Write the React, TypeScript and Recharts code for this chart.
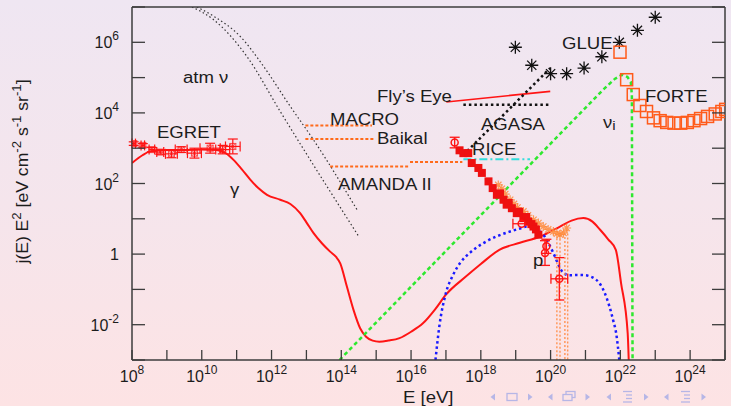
import { ComposedChart, Line, Scatter, XAxis, YAxis, ErrorBar } from 'recharts';

// Every value is a log10: energy E in eV, flux j(E)E^2 in eV cm^-2 s^-1 sr^-1.
const decadesE = [8, 9, 10, 11, 12, 13, 14, 15, 16, 17, 18, 19, 20, 21, 22, 23, 24, 25];
const decadesJ = [-3, -2, -1, 0, 1, 2, 3, 4, 5, 6, 7];

// atmospheric neutrinos (two bands)
const atmUpperE = [9.86, 10.34, 11.1, 11.77, 12.54, 13.2, 14.48];
const atmUpperJ = [7.0, 6.74, 6.17, 5.32, 4.18, 3.24, 1.21];
const atmLowerE = [9.72, 10.34, 11.3, 12.25, 14.48];
const atmLowerJ = [7.0, 6.64, 5.59, 4.04, 0.53];

// gamma-ray model curve
const gammaE = [8.0, 8.3, 8.52, 9.0, 9.5, 10.0, 10.43, 10.7, 10.91, 11.15, 11.39, 11.62, 11.87, 12.25, 12.54, 12.82, 13.0, 13.2, 13.45, 13.68, 13.85, 13.97, 14.16, 14.35, 14.54, 14.71, 14.9, 15.09, 15.35, 15.67, 16.0, 16.34, 16.7, 17.0, 17.58, 18.0, 18.53, 19.12, 19.7, 20.27, 20.6, 20.94, 21.2, 21.42, 21.65, 21.87, 22.02, 22.21, 22.24];
const gammaJ = [2.58, 2.8, 2.91, 2.95, 2.95, 2.96, 2.95, 2.85, 2.67, 2.4, 2.11, 1.87, 1.68, 1.54, 1.42, 1.16, 0.9, 0.6, 0.3, 0.07, -0.08, -0.26, -0.92, -1.58, -2.1, -2.34, -2.45, -2.48, -2.45, -2.38, -2.2, -1.96, -1.55, -1.15, -0.63, -0.28, 0.12, 0.32, 0.5, 0.78, 0.95, 1.02, 0.92, 0.69, 0.42, 0.12, -0.82, -2.24, -3.0];

// proton model curve
const protonE = [16.7, 16.81, 17.0, 17.2, 17.4, 17.7, 18.07, 18.45, 18.84, 19.1, 19.32, 19.55, 19.79, 20.08, 20.25, 20.37, 20.55, 20.75, 21.0, 21.13, 21.3, 21.4, 21.55, 21.69, 21.8, 21.88, 21.97];
const protonJ = [-3.0, -2.05, -1.1, -0.6, -0.26, 0.05, 0.31, 0.5, 0.64, 0.72, 0.78, 0.72, 0.55, 0.03, -0.35, -0.54, -0.6, -0.59, -0.6, -0.63, -0.72, -0.82, -1.1, -1.49, -1.9, -2.24, -3.0];

// neutrino model curve
const nuE = [13.95, 21.5, 21.85, 22.05, 22.2, 22.3, 22.33, 22.35];
const nuJ = [-3.0, 4.65, 4.97, 5.08, 5.02, 4.88, 4.5, -3.0];

// experimental limits
const flysEyeE = [17.01, 19.99];
const flysEyeJ = [4.31, 4.61];
const agasaFlatE = [17.5, 19.94];
const agasaFlatJ = [4.23, 4.23];
const agasaRiseE = [17.5, 19.99];
const agasaRiseJ = [2.81, 5.27];
const riceE = [17.5, 19.41];
const riceJ = [2.69, 2.69];
const macroE = [12.97, 14.88];
const macroJ = [3.64, 3.64];
const baikalE = [12.97, 14.97];
const baikalJ = [3.26, 3.26];
const amandaLowE = [13.68, 15.97];
const amandaLowJ = [2.48, 2.48];
const amandaHighE = [15.97, 17.47];
const amandaHighJ = [2.61, 2.61];

// EGRET diffuse gamma data
const egretE = [8.05, 8.31, 8.57, 8.81, 9.13, 9.41, 9.79, 10.24, 10.6, 10.89];
const egretJ = [3.13, 3.08, 2.96, 2.89, 2.84, 2.96, 2.86, 3.0, 2.96, 3.05];
const egretErrE = [0.05, 0.05, 0.08, 0.1, 0.17, 0.17, 0.2, 0.29, 0.2, 0.21];
const egretErrJ = [0.05, 0.05, 0.06, 0.06, 0.11, 0.08, 0.14, 0.14, 0.12, 0.21];

// cosmic ray spectrum
const crE = [17.39, 17.5, 17.64, 17.74, 17.93, 18.03, 18.22, 18.34, 18.46, 18.55, 18.65, 18.74, 18.8, 18.89, 19.03, 19.1, 19.22, 19.3, 19.36, 19.45, 19.51, 19.58, 19.65];
const crJ = [2.94, 2.86, 2.86, 2.58, 2.44, 2.3, 2.06, 1.87, 1.68, 1.72, 1.54, 1.4, 1.45, 1.3, 1.16, 1.2, 1.02, 1.05, 0.92, 0.85, 0.78, 0.7, 0.55];
const crHiE = [18.5, 18.6, 18.7, 18.84, 18.95, 19.05, 19.22, 19.35, 19.51, 19.65, 19.79, 19.93, 20.08, 20.18, 20.27, 20.37, 20.46];
const crHiJ = [1.96, 1.85, 1.7, 1.54, 1.42, 1.32, 1.21, 1.1, 0.97, 0.88, 0.78, 0.7, 0.64, 0.58, 0.55, 0.6, 0.74];
const crBarE = [17.25, 19.17, 19.84, 19.88, 20.25];
const crBarJ = [3.16, 0.86, 0.03, 0.22, -0.7];
const crBarErrE = [0, 0.25, 0, 0, 0.24];
const crBarErrJ = [0.15, 0, 0.35, 0.2, 0.6];
const limitE = [20.18, 20.27, 20.41, 20.49];
const limitTopJ = [0.45, 0.55, 0.6, 0.7];

// radio searches
const glueE = [18.99, 19.46, 20.0, 20.46, 20.96, 21.47, 21.97, 22.49, 23.0];
const glueJ = [5.86, 5.35, 5.11, 5.11, 5.27, 5.59, 6.0, 6.34, 6.71];
const forteE = [21.99, 22.18, 22.37, 22.56, 22.75, 22.95, 23.14, 23.33, 23.54, 23.73, 23.92, 24.11, 24.3, 24.5, 24.72, 24.91, 25.02];
const forteJ = [5.72, 4.94, 4.52, 4.21, 4.04, 3.86, 3.78, 3.73, 3.71, 3.71, 3.73, 3.78, 3.84, 3.9, 3.97, 4.04, 4.1];

const FONT = '"Liberation Sans", Arial, Helvetica, sans-serif';
const INK = '#1c1c1c';
const AXIS = '#3c3c3c';
const RED = '#ff1414';
const ORANGE = '#ff6a1a';
const NAV = '#b6b6e6';

type Row = { x: number; y: number; ex?: number; ey?: number };
const zip = (xs: number[], ys: number[]): Row[] => xs.map((x, i) => ({ x, y: ys[i] }));

const egretRows = egretE.map((x, i) => ({ x, y: egretJ[i], ex: egretErrE[i], ey: egretErrJ[i] }));
const crBarRows = crBarE.map((x, i) => ({ x, y: crBarJ[i], ex: crBarErrE[i], ey: crBarErrJ[i] }));

const BottomTick = ({ x, y, payload }: any) => {
  const v = payload.value as number;
  const labelled = v % 2 === 0 && v < 25;
  return (
    <g>
      <line x1={x} x2={x} y1={y} y2={y - 10} stroke={AXIS} strokeWidth={1.3} />
      {labelled && (
        <text x={x} y={y + 22} textAnchor="middle" fontFamily={FONT} fontSize={16} fill={INK}>
          10<tspan dy={-8} fontSize={12}>{v}</tspan>
        </text>
      )}
    </g>
  );
};

const TopTick = ({ x, y }: any) => (
  <line x1={x} x2={x} y1={y} y2={y + 10} stroke={AXIS} strokeWidth={1.3} />
);

const LeftTick = ({ x, y, payload }: any) => {
  const v = payload.value as number;
  const labelled = v % 2 === 0 && v > -3 && v < 7;
  return (
    <g>
      <line x1={x} x2={x + 13} y1={y} y2={y} stroke={AXIS} strokeWidth={1.3} />
      {labelled && (
        <text x={x - 13} y={y + 6} textAnchor="end" fontFamily={FONT} fontSize={16} fill={INK}>
          {v === 0 ? '1' : '10'}
          {v !== 0 && <tspan dy={-8} fontSize={12}>{v}</tspan>}
        </text>
      )}
    </g>
  );
};

const RightTick = ({ x, y }: any) => (
  <line x1={x} x2={x - 13} y1={y} y2={y} stroke={AXIS} strokeWidth={1.3} />
);

const asterisk = (cx: number, cy: number, r: number) => {
  const d = r * 0.707;
  return `M${cx - r},${cy}L${cx + r},${cy}M${cx},${cy - r}L${cx},${cy + r}` +
    `M${cx - d},${cy - d}L${cx + d},${cy + d}M${cx + d},${cy - d}L${cx - d},${cy + d}`;
};

const EgretMark = ({ cx, cy }: any) => (
  <g stroke={RED} strokeWidth={1} fill="none" opacity={0.75}>
    <rect x={cx - 3} y={cy - 3} width={6} height={6} />
    <path d={`M${cx - 3},${cy - 3}L${cx + 3},${cy + 3}M${cx + 3},${cy - 3}L${cx - 3},${cy + 3}`} />
  </g>
);
const CrMark = ({ cx, cy }: any) => (
  <rect x={cx - 4} y={cy - 4} width={8} height={8} fill="#ee1010" />
);
const CrHiMark = ({ cx, cy }: any) => (
  <g stroke="#ff8a3a" strokeWidth={1.2} fill="none" opacity={0.85}>
    <path d={asterisk(cx, cy, 4.5)} />
  </g>
);
const CrBarMark = ({ cx, cy }: any) => (
  <circle cx={cx} cy={cy} r={3.5} fill="none" stroke={RED} strokeWidth={1.5} />
);
const GlueMark = ({ cx, cy }: any) => (
  <path d={asterisk(cx, cy, 6.5)} stroke="#111" strokeWidth={1.3} fill="none" />
);
const ForteMark = ({ cx, cy }: any) => (
  <rect x={cx - 6} y={cy - 6} width={12} height={12} fill="none" stroke="#ff5a1a" strokeWidth={1.5} />
);

// plain straight/curved series drawn as Line
const curve = (key: string, xs: number[], ys: number[], stroke: string, width: number, dash?: string, type: any = 'linear') => (
  <Line
    key={key}
    data={zip(xs, ys)}
    dataKey="y"
    type={type}
    stroke={stroke}
    strokeWidth={width}
    strokeDasharray={dash}
    dot={false}
    activeDot={false}
    isAnimationActive={false}
  />
);

const notes = [
  { x: 183, y: 83, t: 'atm ν' },
  { x: 157, y: 138, t: 'EGRET' },
  { x: 230, y: 195, t: 'γ' },
  { x: 330, y: 125, t: 'MACRO' },
  { x: 377, y: 143.5, t: 'Baikal' },
  { x: 338, y: 189.5, t: 'AMANDA II' },
  { x: 377, y: 102, t: 'Fly’s Eye' },
  { x: 481, y: 130, t: 'AGASA' },
  { x: 472, y: 155, t: 'RICE' },
  { x: 562, y: 48.5, t: 'GLUE' },
  { x: 645, y: 102, t: 'FORTE' },
  { x: 533, y: 266, t: 'p' },
];

const tri = (x: number, y: number, dir: number) =>
  `M${x + dir * 2.5},${y}L${x - dir * 2},${y - 3.5}L${x - dir * 2},${y + 3.5}Z`;

const NavBar = () => {
  const y = 397;
  const groups = [493, 550.5, 609, 666.5];
  return (
    <g>
      {groups.map((gx) => (
        <g key={gx}>
          <path d={tri(gx, y, -1)} fill={NAV} />
          <path d={tri(gx + 37, y, 1)} fill={NAV} />
        </g>
      ))}
      <rect x={507} y={393.5} width={10} height={7} fill="none" stroke={NAV} strokeWidth={1.3} />
      <rect x={566} y={391.5} width={9} height={6} fill="none" stroke={NAV} strokeWidth={1.3} />
      <rect x={563} y={394.5} width={9} height={6} fill={'#fbe4e6'} stroke={NAV} strokeWidth={1.3} />
      {[628, 686].map((lx) => (
        <g key={lx} stroke={NAV} strokeWidth={1.3}>
          <line x1={lx - 5} x2={lx + 4} y1={391.5} y2={391.5} />
          <line x1={lx - 2} x2={lx + 4} y1={395} y2={395} />
          <line x1={lx - 2} x2={lx + 4} y1={398.5} y2={398.5} />
          <line x1={lx - 5} x2={lx + 4} y1={402} y2={402} />
        </g>
      ))}
    </g>
  );
};

export default function App() {
  return (
    <div
      style={{
        position: 'fixed',
        left: 0,
        top: 0,
        width: 731,
        height: 406,
        background: 'linear-gradient(180deg, #efe6f2 0%, #f5e5ec 50%, #fde3e4 100%)',
      }}
    >
      <ComposedChart width={731} height={406} margin={{ top: 6, right: 5, bottom: 45, left: 131 }}>
        <XAxis
          dataKey="x"
          type="number"
          domain={[8, 25]}
          ticks={decadesE}
          interval={0}
          height={1}
          tickSize={0}
          tickMargin={0}
          tick={<BottomTick />}
          axisLine={{ stroke: AXIS, strokeWidth: 1.5 }}
          tickLine={false}
          allowDataOverflow
        />
        <XAxis
          xAxisId="top"
          orientation="top"
          type="number"
          domain={[8, 25]}
          ticks={decadesE}
          interval={0}
          height={1}
          tickSize={0}
          tickMargin={0}
          tick={<TopTick />}
          axisLine={{ stroke: AXIS, strokeWidth: 1.5 }}
          tickLine={false}
          allowDataOverflow
        />
        <YAxis
          dataKey="y"
          type="number"
          domain={[-3, 7]}
          ticks={decadesJ}
          interval={0}
          width={1}
          tickSize={0}
          tickMargin={0}
          tick={<LeftTick />}
          axisLine={{ stroke: AXIS, strokeWidth: 1.5 }}
          tickLine={false}
          allowDataOverflow
        />
        <YAxis
          yAxisId="right"
          orientation="right"
          type="number"
          domain={[-3, 7]}
          ticks={decadesJ}
          interval={0}
          width={1}
          tickSize={0}
          tickMargin={0}
          tick={<RightTick />}
          axisLine={{ stroke: AXIS, strokeWidth: 1.5 }}
          tickLine={false}
          allowDataOverflow
        />

        {curve('atmUp', atmUpperE, atmUpperJ, '#333', 1.2, '1.5 2.5', 'monotone')}
        {curve('atmLo', atmLowerE, atmLowerJ, '#333', 1.2, '1.5 2.5', 'monotone')}
        {curve('macro', macroE, macroJ, ORANGE, 2, '3 2')}
        {curve('baikal', baikalE, baikalJ, ORANGE, 2, '3 2')}
        {curve('amandaLo', amandaLowE, amandaLowJ, ORANGE, 2, '3 2')}
        {curve('amandaHi', amandaHighE, amandaHighJ, ORANGE, 2, '3 2')}
        {curve('gamma', gammaE, gammaJ, RED, 2, undefined, 'monotone')}
        {curve('nu', nuE, nuJ, '#2ee82e', 2.5, '4 3')}
        {curve('proton', protonE, protonJ, '#1a1aff', 2.5, '2.5 3', 'monotone')}
        {limitE.map((e, i) => curve(`lim${i}`, [e, e], [limitTopJ[i], -3], '#ff9455', 1.4, '2 2'))}
        {curve('rice', riceE, riceJ, '#33dddd', 2, '8 3 2 3')}
        {curve('flys', flysEyeE, flysEyeJ, RED, 1.6)}
        {curve('agasaFlat', agasaFlatE, agasaFlatJ, '#111', 2.5, '2.5 3')}
        {curve('agasaRise', agasaRiseE, agasaRiseJ, '#111', 2.5, '2.5 3')}

        <Scatter data={egretRows} shape={<EgretMark />} isAnimationActive={false}>
          <ErrorBar dataKey="ey" direction="y" width={5} stroke={RED} strokeWidth={1.2} />
          <ErrorBar dataKey="ex" direction="x" width={5} stroke={RED} strokeWidth={1.2} />
        </Scatter>
        <Scatter data={zip(crHiE, crHiJ)} shape={<CrHiMark />} isAnimationActive={false} />
        <Scatter data={zip(crE, crJ)} shape={<CrMark />} isAnimationActive={false} />
        <Scatter data={crBarRows} shape={<CrBarMark />} isAnimationActive={false}>
          <ErrorBar dataKey="ey" direction="y" width={5} stroke={RED} strokeWidth={1.3} />
          <ErrorBar dataKey="ex" direction="x" width={5} stroke={RED} strokeWidth={1.3} />
        </Scatter>
        <Scatter data={zip(glueE, glueJ)} shape={<GlueMark />} isAnimationActive={false} />
        <Scatter data={zip(forteE, forteJ)} shape={<ForteMark />} isAnimationActive={false} />
      </ComposedChart>

      <svg width={731} height={406} style={{ position: 'absolute', left: 0, top: 0, pointerEvents: 'none' }}>
        <g fontFamily={FONT} fontSize={16} fill={INK}>
          {notes.map((n) => (
            <text key={n.t} transform={`translate(${n.x},${n.y}) scale(1.16,1)`}>{n.t}</text>
          ))}
          <text transform="translate(603,127.5) scale(1.16,1)">
            ν<tspan dy={2} fontSize={13}>i</tspan>
          </text>
          <text transform="translate(403,403) scale(1.16,1)">E [eV]</text>
          <text transform="translate(28,171.5) rotate(-90) scale(1.1,1)" textAnchor="middle">
            j(E) E<tspan dy={-7} fontSize={12}>2</tspan>
            <tspan dy={7}> [eV cm</tspan>
            <tspan dy={-7} fontSize={12}>-2</tspan>
            <tspan dy={7}> s</tspan>
            <tspan dy={-7} fontSize={12}>-1</tspan>
            <tspan dy={7}> sr</tspan>
            <tspan dy={-7} fontSize={12}>-1</tspan>
            <tspan dy={7}>]</tspan>
          </text>
        </g>
        <NavBar />
      </svg>
    </div>
  );
}
